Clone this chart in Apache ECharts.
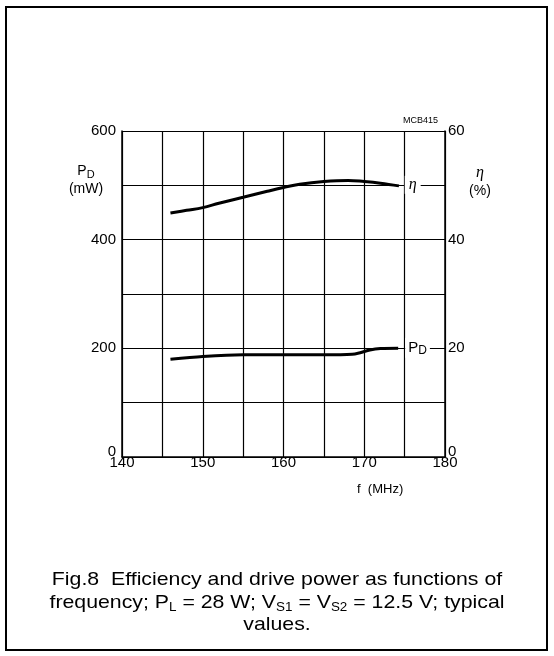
<!DOCTYPE html>
<html>
<head>
    <meta charset="utf-8">
    <title>Fig.8 Efficiency and drive power</title>
    <script src="https://cdn.jsdelivr.net/npm/echarts@6/dist/echarts.min.js"></script>
    <style>
        body { margin: 0; background: #fff; }
    </style>
</head>
<body>
    <div id="main" style="width:554px; height:656px;"></div>
    <script type="text/javascript">

    // data (f in MHz)
    var etaF = [146, 148, 150, 152, 155, 158, 160, 162, 165, 168, 170, 172, 174.3];
    var etaVal = [44.9, 45.4, 45.9, 46.7, 47.8, 48.9, 49.6, 50.2, 50.7, 50.9, 50.7, 50.4, 49.9];   // %
    var pdF = [146, 150, 155, 160, 165, 168.5, 169.5, 170.7, 172, 174.2];
    var pdVal = [180, 185, 188, 188, 188, 189, 192, 197, 199.5, 200];    // mW

    var xTicks = [140, 150, 160, 170, 180];
    var leftTicks = [0, 200, 400, 600];
    var rightTicks = [0, 20, 40, 60];

    function zip(a, b) {
        return a.map(function (v, i) { return [v, b[i]]; });
    }

    var font = 'Liberation Sans, Arial, sans-serif';
    var myChart = echarts.init(document.getElementById('main'));

    var option = {
        backgroundColor: '#fff',
        animation: false,
        grid: { left: 122, right: 109, top: 131, bottom: 199 },
        xAxis: {
            type: 'value',
            min: 140, max: 180, interval: 5,
            axisLine: { show: true, lineStyle: { color: '#000', width: 1.5 } },
            axisTick: { show: false },
            splitLine: { show: true, lineStyle: { color: '#000', width: 1.2 } },
            axisLabel: {
                color: '#000', fontFamily: font, fontSize: 15, margin: -2,
                formatter: function (v) { return xTicks.indexOf(v) >= 0 ? String(v) : ''; }
            }
        },
        yAxis: [{
            type: 'value',
            min: 0, max: 600, interval: 100,
            axisLine: { show: true, lineStyle: { color: '#000', width: 1.5 } },
            axisTick: { show: false },
            splitLine: { show: true, lineStyle: { color: '#000', width: 1.2 } },
            axisLabel: {
                color: '#000', fontFamily: font, fontSize: 15, margin: 6,
                formatter: function (v) {
                    if (leftTicks.indexOf(v) < 0) return '';
                    return v === 0 ? '{z|0}' : String(v);
                },
                rich: { z: { fontSize: 15, fontFamily: font, color: '#000', padding: [0, 0, 10, 0] } }
            }
        }, {
            type: 'value',
            position: 'right',
            min: 0, max: 60, interval: 10,
            axisLine: { show: true, lineStyle: { color: '#000', width: 1.5 } },
            axisTick: { show: false },
            splitLine: { show: false },
            axisLabel: {
                color: '#000', fontFamily: font, fontSize: 15, margin: 3,
                formatter: function (v) {
                    if (rightTicks.indexOf(v) < 0) return '';
                    return v === 0 ? '{z|0}' : String(v);
                },
                rich: { z: { fontSize: 15, fontFamily: font, color: '#000', padding: [0, 0, 10, 0] } }
            }
        }],
        series: [{
            name: 'eta',
            type: 'line',
            yAxisIndex: 1,
            smooth: 0.4,
            symbol: 'none',
            lineStyle: { color: '#000', width: 3 },
            data: zip(etaF, etaVal),
            // curve label, white box breaks the grid lines as in the print
            markPoint: {
                silent: true, symbolSize: 1,
                itemStyle: { color: 'rgba(0,0,0,0)' },
                label: {
                    show: true, position: 'inside', color: '#000',
                    fontFamily: 'Liberation Serif, serif', fontStyle: 'italic', fontSize: 16,
                    backgroundColor: '#fff', padding: [1, 4, 1, 4],
                    formatter: '\u03b7'
                },
                data: [{ coord: [176.0, 50] }]
            }
        }, {
            name: 'PD',
            type: 'line',
            yAxisIndex: 0,
            smooth: 0.3,
            symbol: 'none',
            lineStyle: { color: '#000', width: 3 },
            data: zip(pdF, pdVal),
            markPoint: {
                silent: true, symbolSize: 1,
                itemStyle: { color: 'rgba(0,0,0,0)' },
                label: {
                    show: true, position: 'inside', color: '#000',
                    backgroundColor: '#fff', padding: [1, 3, 1, 3],
                    formatter: '{p|P}{d|D}',
                    rich: {
                        p: { fontFamily: font, fontSize: 15, lineHeight: 18, color: '#000' },
                        d: { fontFamily: font, fontSize: 12, lineHeight: 10, verticalAlign: 'bottom', color: '#000' }
                    }
                },
                data: [{ coord: [176.6, 200] }]
            }
        }],
        graphic: [
            // outer frame
            {
                type: 'rect', z: 100, silent: true,
                shape: { x: 6, y: 7, width: 541, height: 643 },
                style: { fill: null, stroke: '#000', lineWidth: 2 }
            },
            {
                type: 'text', left: 403, top: 116, silent: true,
                style: { text: 'MCB415', font: '9px ' + font, fill: '#000' }
            },
            {
                type: 'text', x: 86, y: 162, silent: true,
                style: {
                    text: '{p|P}{d|D}\n{u|(mW)}', align: 'center',
                    rich: {
                        p: { fontFamily: font, fontSize: 14, lineHeight: 18, fill: '#000' },
                        d: { fontFamily: font, fontSize: 11, lineHeight: 10, verticalAlign: 'bottom', fill: '#000' },
                        u: { fontFamily: font, fontSize: 14, lineHeight: 18, fill: '#000' }
                    }
                }
            },
            {
                type: 'text', x: 480, y: 164, silent: true,
                style: {
                    text: '{e|\u03b7}\n{u|(%)}', align: 'center',
                    rich: {
                        e: { fontFamily: 'Liberation Serif, serif', fontStyle: 'italic', fontSize: 16, lineHeight: 18, fill: '#000' },
                        u: { fontFamily: font, fontSize: 14, lineHeight: 18, fill: '#000' }
                    }
                }
            },
            {
                type: 'text', x: 357, y: 483, silent: true,
                style: { text: 'f  (MHz)', font: '13px ' + font, fill: '#000' }
            },
            {
                // caption; the print is a bit wider than Liberation Sans, so stretch it
                type: 'text', x: 277, y: 569, scaleX: 1.12, silent: true,
                style: {
                    text: 'Fig.8  Efficiency and drive power as functions of\n' +
                          'frequency; P{s|L} = 28 W; V{s|S1} = V{s|S2} = 12.5 V; typical\n' +
                          'values.',
                    align: 'center',
                    font: '19px ' + font,
                    lineHeight: 22.5,
                    fill: '#000',
                    rich: {
                        s: { fontFamily: font, fontSize: 12, lineHeight: 12, verticalAlign: 'bottom', fill: '#000' }
                    }
                }
            }
        ]
    };

    myChart.setOption(option);
    </script>
</body>
</html>
